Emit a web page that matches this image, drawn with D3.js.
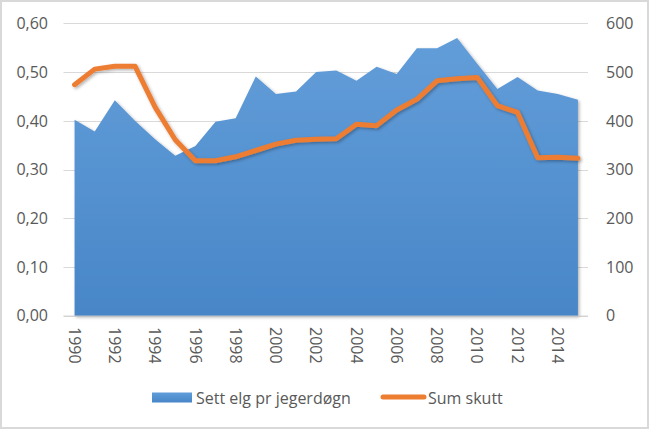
<!DOCTYPE html>
<html>
<head>
<meta charset="utf-8">
<script src="https://cdn.jsdelivr.net/npm/d3@7"></script>
<style>
  html, body { margin: 0; padding: 0; background: #fff; }
  svg { display: block; }
  text { font-family: "Open Sans", "Noto Sans", sans-serif; fill: #595959; }
</style>
</head>
<body>
<svg id="chart" width="649" height="429"></svg>
<script>
const years = [1990,1991,1992,1993,1994,1995,1996,1997,1998,1999,2000,2001,2002,2003,2004,2005,2006,2007,2008,2009,2010,2011,2012,2013,2014,2015];
const settElg = [0.402,0.378,0.442,0.400,0.362,0.328,0.348,0.398,0.405,0.491,0.455,0.460,0.500,0.503,0.482,0.511,0.496,0.549,0.549,0.570,0.517,0.465,0.490,0.462,0.455,0.443];
const sumSkutt = [474,506,512,512,428,361,318,318,326,339,352,360,362,363,393,390,422,444,482,486,489,431,417,324,325,323];
const leftTicks = [0,0.1,0.2,0.3,0.4,0.5,0.6];
const rightTicks = [0,100,200,300,400,500,600];
const xLabelYears = [1990,1992,1994,1996,1998,2000,2002,2004,2006,2008,2010,2012,2014];
const seriesNames = ["Sett elg pr jegerdøgn", "Sum skutt"];

const svg = d3.select("#chart");
const W = 649, H = 429;
const plot = {left: 64.5, right: 588, top: 23.3, bottom: 315.7};

const defs = svg.append("defs");
const grad = defs.append("linearGradient").attr("id","areaGrad")
  .attr("gradientUnits","userSpaceOnUse").attr("x1",0).attr("y1",plot.top).attr("x2",0).attr("y2",plot.bottom);
grad.append("stop").attr("offset","0%").attr("stop-color","#649fda");
grad.append("stop").attr("offset","100%").attr("stop-color","#4886c8");
const lgrad = defs.append("linearGradient").attr("id","legGrad").attr("x1",0).attr("y1",0).attr("x2",0).attr("y2",1);
lgrad.append("stop").attr("offset","0%").attr("stop-color","#5f9cd9");
lgrad.append("stop").attr("offset","100%").attr("stop-color","#4886c8");
const sh = defs.append("filter").attr("id","shadow").attr("x","-5%").attr("y","-5%").attr("width","115%").attr("height","120%");
sh.append("feDropShadow").attr("dx",1.5).attr("dy",1.5).attr("stdDeviation",1.5).attr("flood-color","#000").attr("flood-opacity",0.3);

// background + border
svg.append("rect").attr("x",1).attr("y",1).attr("width",W-2).attr("height",H-2)
  .attr("fill","#fff").attr("stroke","#d9d9d9").attr("stroke-width",2);

const x = d3.scaleBand().domain(years).range([plot.left, plot.right]);
const xc = d => x(d) + x.bandwidth()/2;
const yL = d3.scaleLinear().domain([0,0.6]).range([plot.bottom, plot.top]);
const yR = d3.scaleLinear().domain([0,600]).range([plot.bottom, plot.top]);

// gridlines
svg.append("g").selectAll("line").data(leftTicks.slice(1)).join("line")
  .attr("x1",plot.left-1).attr("x2",plot.right)
  .attr("y1",d=>Math.round(yL(d))+0.5).attr("y2",d=>Math.round(yL(d))+0.5)
  .attr("stroke","#d9d9d9").attr("stroke-width",1);

// area
const area = d3.area().x((d,i)=>xc(years[i])).y0(plot.bottom).y1(d=>yL(d));
svg.append("path").datum(settElg).attr("d",area).attr("fill","url(#areaGrad)").attr("filter","url(#shadow)");

// bottom axis line
svg.append("line").attr("x1",plot.left-1).attr("x2",plot.right)
  .attr("y1",plot.bottom+0.5).attr("y2",plot.bottom+0.5).attr("stroke","#bfbfbf").attr("stroke-width",1);

// line
const line = d3.line().x((d,i)=>xc(years[i])).y(d=>yR(d));
svg.append("path").datum(sumSkutt).attr("d",line).attr("fill","none")
  .attr("stroke","#ed7d31").attr("stroke-width",5).attr("stroke-linejoin","round").attr("stroke-linecap","round")
  .attr("filter","url(#shadow)");

// left axis labels
const fmt = d => d3.format(".2f")(d).replace(".", ",");
svg.append("g").selectAll("text").data(leftTicks).join("text")
  .attr("x",48).attr("y",d=>yL(d)).attr("dy","0.36em").attr("text-anchor","end")
  .style("font-size","16px").text(fmt);

// right axis labels
svg.append("g").selectAll("text").data(rightTicks).join("text")
  .attr("x",606).attr("y",d=>yR(d)).attr("dy","0.36em").attr("text-anchor","start")
  .style("font-size","16px").text(d=>d);

// x labels rotated
svg.append("g").selectAll("text").data(xLabelYears).join("text")
  .attr("transform",d=>`translate(${xc(d)},327) rotate(90)`)
  .attr("dy","0.36em").attr("text-anchor","start")
  .style("font-size","16px").text(d=>d);

// legend
const lg = svg.append("g");
lg.append("rect").attr("x",152).attr("y",392.5).attr("width",40).attr("height",10).attr("fill","url(#legGrad)");
lg.append("text").attr("x",196).attr("y",398).attr("dy","0.36em").style("font-size","16px").text(seriesNames[0]);
lg.append("line").attr("x1",383).attr("x2",424).attr("y1",397).attr("y2",397)
  .attr("stroke","#ed7d31").attr("stroke-width",5).attr("stroke-linecap","round");
lg.append("text").attr("x",428).attr("y",398).attr("dy","0.36em").style("font-size","16px").text(seriesNames[1]);
</script>
</body>
</html>
